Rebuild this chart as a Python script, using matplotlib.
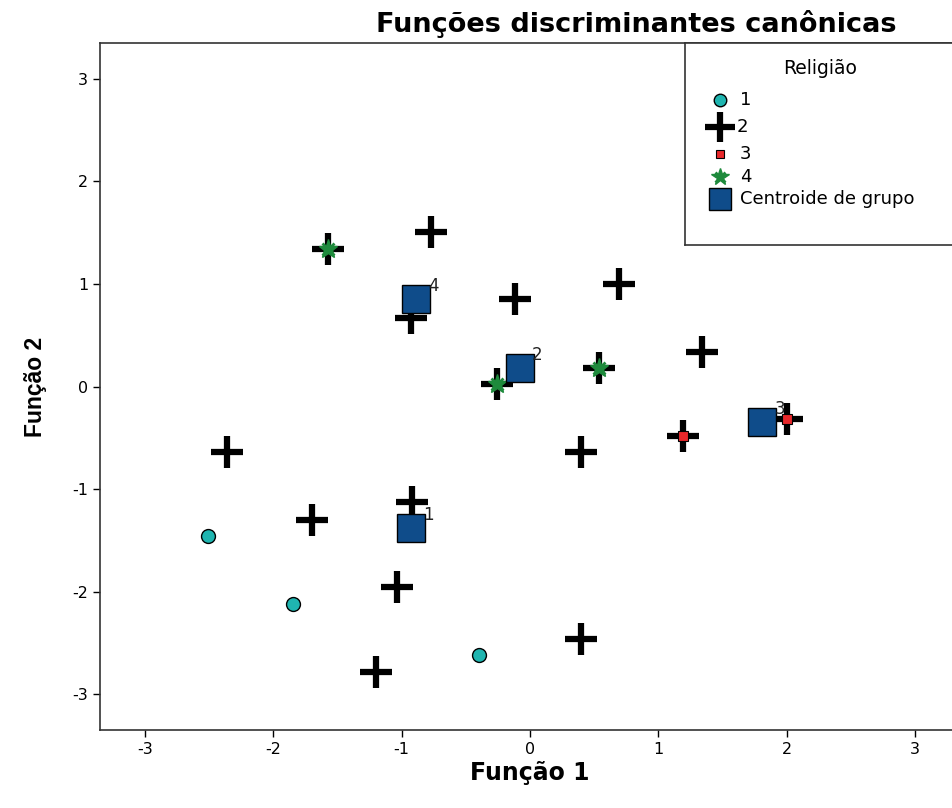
import matplotlib.pyplot as plt
import matplotlib as mpl
from matplotlib.ticker import FuncFormatter

mpl.rcParams["font.family"] = ["DejaVu Sans"]
mpl.rcParams["axes.unicode_minus"] = False

# group scores
g1_x = [-2.51, -1.85, -0.40, -2.36, -0.92]
g1_y = [-1.46, -2.12, -2.62, -0.64, -1.13]
g2_x = [-0.77, 0.69, -0.12, -0.93, 1.34, -2.36, 0.40, -0.92, -1.70, -1.04,
        0.40, -1.20, 1.19, 2.00, -1.57, -0.26, 0.54]
g2_y = [1.51, 1.00, 0.85, 0.67, 0.34, -0.64, -0.64, -1.13, -1.30, -1.96,
        -2.46, -2.78, -0.48, -0.32, 1.34, 0.02, 0.18]
g3_x = [1.19, 2.00]
g3_y = [-0.48, -0.32]
g4_x = [-1.57, -0.26, 0.54]
g4_y = [1.34, 0.02, 0.18]
cent_x = [-0.93, -0.08, 1.81, -0.89]
cent_y = [-1.38, 0.18, -0.35, 0.85]
cent_lab = ["1", "2", "3", "4"]
legend_labels = ["1", "2", "3", "4", "Centroide de grupo"]

C1 = "#1FB5B0"
C3 = "#E8282B"
C4 = "#1E8A3C"
CC = "#0F4C8A"

fig = plt.figure(figsize=(9.52, 8.08), dpi=100)
fig.patch.set_facecolor("white")
ax = fig.add_axes([100 / 952, 1 - 730 / 808, 860 / 952, 687 / 808])
ax.set_xlim(-3.35, 3.35)
ax.set_ylim(-3.35, 3.35)
ax.set_xticks([-3, -2, -1, 0, 1, 2, 3])
ax.set_yticks([-3, -2, -1, 0, 1, 2, 3])
fmt = FuncFormatter(lambda v, p: f"{v:.0f}")
ax.xaxis.set_major_formatter(fmt)
ax.yaxis.set_major_formatter(fmt)
ax.tick_params(labelsize=11.5, length=5, width=1, direction="out")
for s in ax.spines.values():
    s.set_linewidth(1.2)
    s.set_color("#333")

# group 1 under the crosses
ax.plot(g1_x[:3], g1_y[:3], "o", ms=10, mfc=C1, mec="black", mew=1, ls="none", zorder=2)
ax.plot(g1_x[3:], g1_y[3:], "o", ms=5, mfc=C1, mec="none", ls="none", zorder=2)
ax.plot(g2_x, g2_y, "+", ms=23, mec="black", mew=4.5, ls="none", zorder=3)
ax.plot(g3_x, g3_y, "s", ms=7, mfc=C3, mec="black", mew=0.8, ls="none", zorder=4)
ax.plot(g4_x, g4_y, "*", ms=14, mfc=C4, mec=C4, mew=1, ls="none", zorder=4)
ax.plot(g4_x, g4_y, "x", ms=8, mec=C4, mew=2, ls="none", zorder=4)
ax.plot(cent_x, cent_y, "s", ms=20, mfc=CC, mec="black", mew=1, ls="none", zorder=5)
for x, y, t in zip(cent_x, cent_y, cent_lab):
    ax.annotate(t, (x, y), xytext=(9, 6), textcoords="offset points",
                fontsize=12, color="#222", zorder=6)

ax.set_xlabel("Função 1", fontsize=17, fontweight="bold", labelpad=3)
ax.set_ylabel("Função 2", fontsize=16.5, fontweight="bold", labelpad=18,
              family="Liberation Sans")
fig.text(636 / 952, 1 - 24 / 808, "Funções discriminantes canônicas",
         ha="center", va="center", fontsize=19.5, fontweight="bold")

# legend box drawn by hand, in pixel coordinates
lax = fig.add_axes([685 / 952, 1 - 245 / 808, 275 / 952, 202 / 808])
lax.set_xlim(685, 960)
lax.set_ylim(245, 43)
lax.set_xticks([])
lax.set_yticks([])
lax.set_facecolor("white")
for s in lax.spines.values():
    s.set_linewidth(1.2)
    s.set_color("#333")
lax.text(820, 68, "Religião", ha="center", va="center", fontsize=13.5)
rows = [100, 127, 154, 177, 199]
lax.plot(720, rows[0], "o", ms=9, mfc=C1, mec="black", mew=1)
lax.plot(720, rows[1], "+", ms=21, mec="black", mew=4.5)
lax.plot(720, rows[2], "s", ms=6, mfc=C3, mec="black", mew=0.8)
lax.plot(720, rows[3], "*", ms=13, mfc=C4, mec=C4)
lax.plot(720, rows[3], "x", ms=7, mec=C4, mew=2)
lax.plot(720, rows[4], "s", ms=16, mfc=CC, mec="black", mew=1)
for r, t in zip(rows, legend_labels):
    lax.text(740 if t != "2" else 737, r, t, ha="left", va="center", fontsize=13)

fig.savefig("out.png", facecolor="white")
